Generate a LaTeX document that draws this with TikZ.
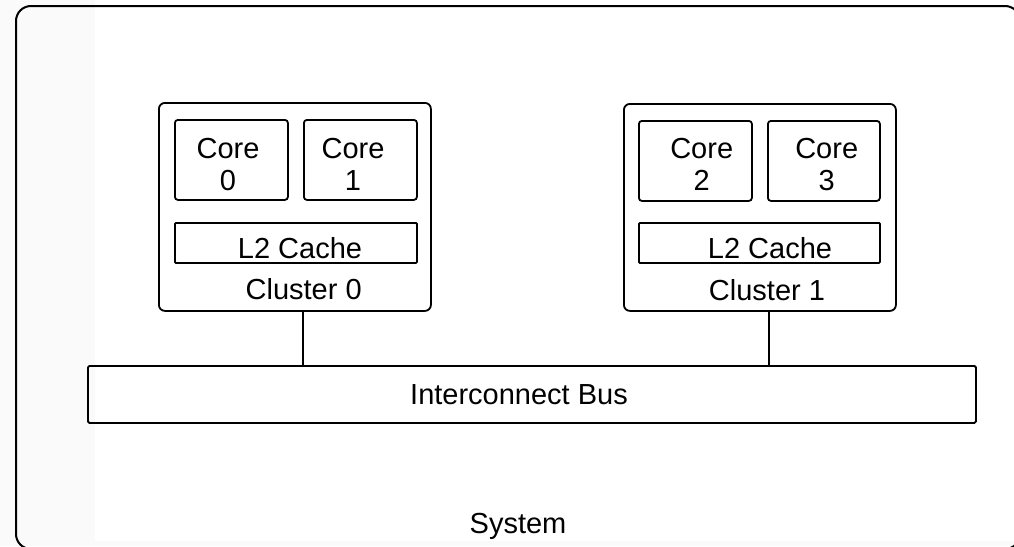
\documentclass[tikz,border=0pt]{standalone}
\usepackage{fontspec}
\setmainfont{Liberation Sans}
\definecolor{stripgray}{RGB}{250,250,250}
\begin{document}
\begin{tikzpicture}[x=1pt,y=-1pt,
  box/.style={draw=black,line width=1.8pt,rounded corners=3pt,inner sep=0pt,anchor=north west},
  cluster/.style={box,rounded corners=6pt},
  txt/.style={anchor=base,inner sep=0pt,font=\fontsize{29}{32}\selectfont}]
\useasboundingbox (0,0) rectangle (1014,546);
\fill[white] (0,0) rectangle (1014,546);
\fill[stripgray] (0,0) rectangle (95,546);
\fill[stripgray] (0,541) rectangle (1014,546);
% system outline
\node[draw=black,line width=2pt,rounded corners=15pt,inner sep=0pt,anchor=north west,
  minimum width=1004pt,minimum height=543pt] (sys) at (15,5) {};
\node[txt] (systxt) at (518,533) {System};
% cluster 0
\node[cluster,minimum width=272pt,minimum height=208pt] (c0) at (158,102) {};
\node[box,minimum width=113pt,minimum height=80pt] (k0) at (174,119) {};
\node[box,minimum width=113pt,minimum height=80pt] (k1) at (303,119) {};
\node[box,rounded corners=1pt,minimum width=242pt,minimum height=40pt] (l20) at (174,222) {};
\node[txt] (k0a) at (228,158) {Core};
\node[txt] (k0b) at (228,190) {0};
\node[txt] (k1a) at (353,158) {Core};
\node[txt] (k1b) at (353,190) {1};
\node[txt] (l20t) at (300,258) {L2 Cache};
\node[txt] (c0t) at (303.7,299) {Cluster 0};
% cluster 1
\node[cluster,minimum width=272pt,minimum height=207pt] (c1) at (623,103) {};
\node[box,minimum width=113pt,minimum height=80pt] (k2) at (638,120) {};
\node[box,minimum width=112pt,minimum height=80pt] (k3) at (767,120) {};
\node[box,rounded corners=1pt,minimum width=241pt,minimum height=40pt] (l21) at (638,222) {};
\node[txt] (k2a) at (701.7,158) {Core};
\node[txt] (k2b) at (701.7,190) {2};
\node[txt] (k3a) at (826.7,158) {Core};
\node[txt] (k3b) at (826.7,190) {3};
\node[txt] (l21t) at (770,258) {L2 Cache};
\node[txt] (c1t) at (767,300) {Cluster 1};
% bus
\node[box,rounded corners=1.5pt,minimum width=888pt,minimum height=57pt] (bus) at (87,365) {};
\node[txt] (bust) at (519,404) {Interconnect Bus};
% connectors
\coordinate (j0) at (303,0);
\coordinate (j1) at (769,0);
\draw[line width=1.8pt] (c0.south -| j0) -- (bus.north -| j0);
\draw[line width=1.8pt] (c1.south -| j1) -- (bus.north -| j1);
\end{tikzpicture}
\end{document}
